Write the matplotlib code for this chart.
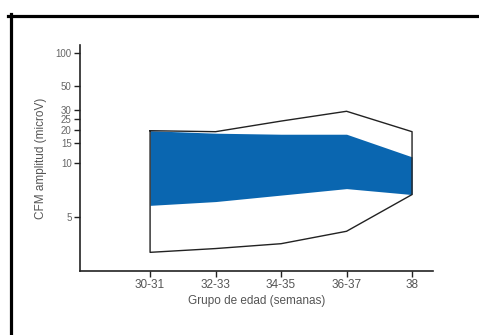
import numpy as np
import matplotlib
matplotlib.use("Agg")
import matplotlib.pyplot as plt
from matplotlib.lines import Line2D

categories = ["30-31", "32-33", "34-35", "36-37", "38"]
outer_upper = [19.6, 19.2, 24.0, 29.5, 19.2]
outer_lower = [1.7, 2.05, 2.5, 3.65, 7.05]
band_upper = [19.6, 18.6, 18.2, 18.2, 11.3]
band_lower = [6.05, 6.4, 7.0, 7.6, 7.05]
ytick_values = [5, 10, 15, 20, 25, 30, 50, 100]

plt.rcParams['font.family'] = ['Liberation Sans', 'DejaVu Sans']

def fwd(v):
    v = np.asarray(v, dtype=float)
    return np.where(v <= 10, v, 10 + 10 * np.log10(np.maximum(v, 1e-9) / 10) * 1.013)

def inv(t):
    t = np.asarray(t, dtype=float)
    return np.where(t <= 10, t, 10 * 10 ** ((t - 10) / 10.13))

fig = plt.figure(figsize=(4.79, 3.35), dpi=100)
ax = fig.add_axes([80/479, 1 - 270.7/335, (433-80)/479, (270.7-45)/335])
ax.set_yscale('function', functions=(fwd, inv))

x = np.arange(len(categories))
ax.fill_between(x, band_lower, band_upper, color='#0a66b0', linewidth=0, zorder=2)
poly_x = np.concatenate([x, x[::-1], x[:1]])
poly_y = np.concatenate([outer_upper, outer_lower[::-1], outer_upper[:1]])
ax.plot(poly_x, poly_y, color='#222222', lw=1.0, zorder=3)

ax.set_xlim(-1.07, 4.32)
ax.set_ylim(0, 119)
ax.set_xticks(x)
ax.set_xticklabels(categories)
ax.set_yticks(ytick_values)
ax.set_yticklabels([str(v) for v in ytick_values])
ax.minorticks_off()

for s in ['top', 'right']:
    ax.spines[s].set_visible(False)
for s in ['left', 'bottom']:
    ax.spines[s].set_linewidth(1.2)
    ax.spines[s].set_color('#222222')

ax.tick_params(axis='x', labelsize=8.5, colors='#222222', labelcolor='#555555', length=4, width=1, pad=2)
ax.tick_params(axis='y', labelsize=7, colors='#222222', labelcolor='#666666', length=4, width=1, pad=2)

ax.set_xlabel("Grupo de edad (semanas)", fontsize=8.5, color='#555555', labelpad=3)
ax.set_ylabel("CFM amplitud (microV)", fontsize=8.5, color='#555555', labelpad=6)

# partial frame (top and left)
fig.add_artist(Line2D([8/479, 1], [1 - 15.5/335, 1 - 15.5/335], transform=fig.transFigure, color='black', lw=2.3))
fig.add_artist(Line2D([10.5/479, 10.5/479], [0, 1 - 14/335], transform=fig.transFigure, color='black', lw=2.3))

fig.savefig("out.png", dpi=100)
